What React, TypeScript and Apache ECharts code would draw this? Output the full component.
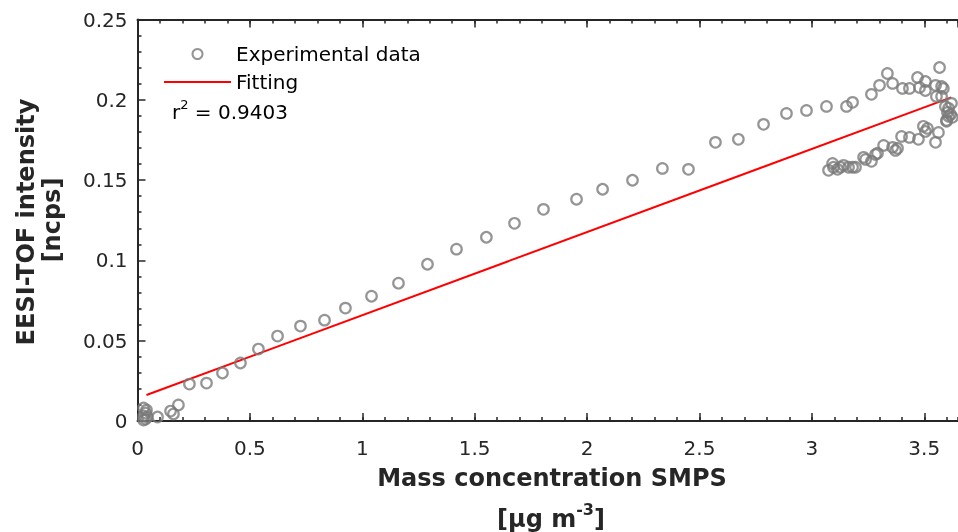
import React, { useEffect, useRef } from 'react';
import * as echarts from 'echarts';

const FONT = "'DejaVu Sans', sans-serif";

// Experimental data (x: mass concentration SMPS [µg m-3], y: EESI-TOF intensity [ncps])
const expX = [
  0.027, 0.040, 0.036, 0.027, 0.044, 0.036, 0.027, 0.089, 0.147, 0.160, 0.182,
  0.231, 0.307, 0.378, 0.458, 0.538, 0.623, 0.725, 0.832, 0.925, 1.041, 1.161,
  1.290, 1.419, 1.552, 1.677, 1.806, 1.953, 2.069, 2.202, 2.335, 2.451, 2.571,
  2.673, 2.785, 2.887, 2.976,
  3.065, 3.154, 3.181, 3.265, 3.301, 3.336, 3.359, 3.403, 3.434, 3.470, 3.479,
  3.505, 3.505, 3.550, 3.568, 3.577, 3.585, 3.554, 3.577, 3.594, 3.608, 3.617,
  3.625, 3.603, 3.599, 3.621,
  3.074, 3.092, 3.096, 3.114, 3.127, 3.141, 3.163, 3.181, 3.194, 3.230, 3.239,
  3.265, 3.283, 3.292, 3.319, 3.359, 3.372, 3.381, 3.399, 3.434, 3.474, 3.496,
  3.505, 3.514, 3.550, 3.563, 3.599, 3.608,
];
const expY = [
  0.0081, 0.0068, 0.0050, 0.0031, 0.0025, 0.0012, 0.0006, 0.0025, 0.0062, 0.0044, 0.0100,
  0.0230, 0.0236, 0.0299, 0.0361, 0.0448, 0.0529, 0.0591, 0.0628, 0.0703, 0.0777, 0.0858,
  0.0976, 0.1070, 0.1144, 0.1231, 0.1318, 0.1381, 0.1443, 0.1499, 0.1573, 0.1567, 0.1735,
  0.1754, 0.1847, 0.1915, 0.1934,
  0.1959, 0.1959, 0.1984, 0.2034, 0.2090, 0.2164, 0.2102, 0.2071, 0.2071, 0.2139, 0.2077,
  0.2114, 0.2058, 0.2090, 0.2201, 0.2083, 0.2071, 0.2021, 0.2021, 0.1959, 0.1947, 0.1909,
  0.1891, 0.1922, 0.1872, 0.1978,
  0.1561, 0.1604, 0.1580, 0.1567, 0.1580, 0.1592, 0.1580, 0.1580, 0.1580, 0.1642, 0.1629,
  0.1617, 0.1660, 0.1667, 0.1716, 0.1704, 0.1685, 0.1698, 0.1772, 0.1766, 0.1754, 0.1835,
  0.1803, 0.1822, 0.1735, 0.1797, 0.1866, 0.1897,
];

// Fitted line end points
const fitX = [0.04, 3.62];
const fitY = [0.0162, 0.2015];

const xMin = 0;
const xMax = 3.65;
const xMajor = 0.5;
const xMinor = 0.1;
const yMin = 0;
const yMax = 0.25;
const yMajor = 0.05;

const AXIS = '#262626';

export default function App() {
  const ref = useRef<HTMLDivElement>(null);
  useEffect(() => {
    const chart = echarts.init(ref.current!, null, { renderer: 'svg' });
    const xBase = {
      type: 'value',
      min: xMin,
      max: xMax,
      splitLine: { show: false },
    };
    chart.setOption({
      animation: false,
      grid: { left: 137.5, top: 19.5, width: 820.5, height: 401.5 },
      xAxis: [
        {
          ...xBase,
          position: 'bottom',
          interval: xMajor,
          axisLine: { show: true, lineStyle: { color: AXIS, width: 2 } },
          axisTick: { show: true, inside: true, length: 8, lineStyle: { color: AXIS, width: 1.5 } },
          axisLabel: { fontSize: 20, fontFamily: FONT, color: AXIS, margin: 17, showMaxLabel: false },
        },
        {
          ...xBase,
          position: 'bottom',
          interval: xMinor,
          axisLine: { show: false },
          axisTick: { show: true, inside: true, length: 4, lineStyle: { color: AXIS, width: 1.5 } },
          axisLabel: { show: false },
        },
        {
          ...xBase,
          position: 'top',
          interval: xMajor,
          axisLine: { show: true, lineStyle: { color: AXIS, width: 2 } },
          axisTick: { show: true, inside: true, length: 8, lineStyle: { color: AXIS, width: 1.5 } },
          axisLabel: { show: false },
        },
        {
          ...xBase,
          position: 'top',
          interval: xMinor,
          axisLine: { show: false },
          axisTick: { show: true, inside: true, length: 4, lineStyle: { color: AXIS, width: 1.5 } },
          axisLabel: { show: false },
        },
      ],
      yAxis: [
        {
          type: 'value',
          position: 'left',
          min: yMin,
          max: yMax,
          interval: yMajor,
          splitLine: { show: false },
          axisLine: { show: true, lineStyle: { color: AXIS, width: 2 } },
          axisTick: { show: true, inside: true, length: 8, lineStyle: { color: AXIS, width: 1.5 } },
          minorTick: { show: true, splitNumber: 5, length: 4, lineStyle: { color: AXIS, width: 1.5 } },
          axisLabel: { fontSize: 20, fontFamily: FONT, color: AXIS, margin: 10 },
        },
      ],
      legend: {
        orient: 'vertical',
        left: 163,
        top: 44,
        padding: 0,
        itemWidth: 67,
        itemHeight: 10,
        itemGap: 8,
        textStyle: { fontSize: 20, fontFamily: FONT, color: '#000' },
        data: [
          { name: 'Experimental data' },
          { name: 'Fitting', itemStyle: { opacity: 0 } },
        ],
      },
      series: [
        {
          name: 'Experimental data',
          type: 'scatter',
          xAxisIndex: 0,
          yAxisIndex: 0,
          symbol: 'circle',
          symbolSize: 10.5,
          symbolKeepAspect: true,
          itemStyle: { color: 'rgba(255,255,255,0)', borderColor: '#7a7a7a', borderWidth: 2.2 },
          data: expX.map((x, i) => [x, expY[i]]),
          z: 3,
        },
        {
          name: 'Fitting',
          type: 'line',
          xAxisIndex: 0,
          yAxisIndex: 0,
          symbol: 'none',
          showSymbol: false,
          lineStyle: { color: '#ff0000', width: 2 },
          itemStyle: { color: '#ff0000' },
          data: fitX.map((x, i) => [x, fitY[i]]),
          z: 2,
        },
      ],
      graphic: [
        {
          type: 'text',
          x: 172,
          y: 110,
          style: {
            text: '{a|r}{s|2}{a| = 0.9403}',
            textAlign: 'left',
            textVerticalAlign: 'middle',
            rich: {
              a: { fontSize: 20, fontFamily: FONT, fill: '#000', color: '#000', lineHeight: 24, verticalAlign: 'bottom' },
              s: { fontSize: 13, fontFamily: FONT, fill: '#000', color: '#000', lineHeight: 13, verticalAlign: 'top' },
            },
          },
        },
        {
          type: 'text',
          x: 552,
          y: 478,
          style: {
            text: 'Mass concentration SMPS',
            font: `bold 24px ${FONT}`,
            fill: AXIS,
            textAlign: 'center',
            textVerticalAlign: 'middle',
          },
        },
        {
          type: 'text',
          x: 551,
          y: 516,
          style: {
            text: '{b|[µg m}{s|-3}{b|]}',
            textAlign: 'center',
            textVerticalAlign: 'middle',
            rich: {
              b: { fontSize: 24, fontWeight: 'bold', fontFamily: FONT, color: AXIS, fill: AXIS, lineHeight: 30, verticalAlign: 'bottom' },
              s: { fontSize: 16, fontWeight: 'bold', fontFamily: FONT, color: AXIS, fill: AXIS, lineHeight: 16, verticalAlign: 'top' },
            },
          },
        },
        {
          type: 'text',
          x: 26,
          y: 222,
          rotation: Math.PI / 2,
          style: {
            text: 'EESI-TOF intensity',
            font: `bold 24px ${FONT}`,
            fill: AXIS,
            textAlign: 'center',
            textVerticalAlign: 'middle',
          },
        },
        {
          type: 'text',
          x: 52,
          y: 220,
          rotation: Math.PI / 2,
          style: {
            text: '[ncps]',
            font: `bold 24px ${FONT}`,
            fill: AXIS,
            textAlign: 'center',
            textVerticalAlign: 'middle',
          },
        },
      ],
    });
    return () => chart.dispose();
  }, []);
  return <div ref={ref} style={{ position: 'fixed', left: 0, top: 0, width: 958, height: 532 }} />;
}
